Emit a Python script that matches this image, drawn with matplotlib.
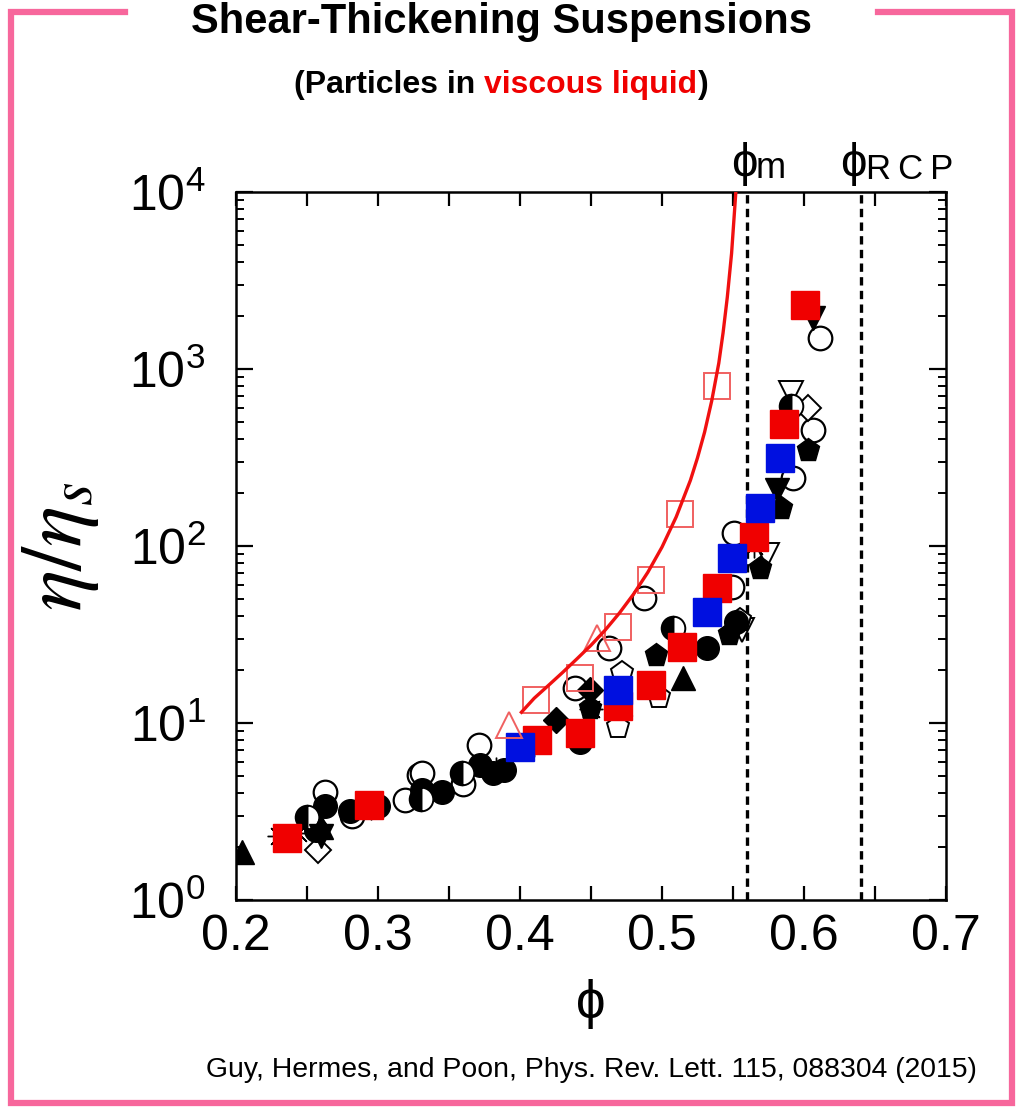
import matplotlib
matplotlib.use("Agg")
import matplotlib.pyplot as plt
from matplotlib.lines import Line2D
from matplotlib.ticker import MultipleLocator, LogLocator, NullFormatter

plt.rcParams['font.family'] = ['Liberation Sans', 'DejaVu Sans']
plt.rcParams['mathtext.fontset'] = 'custom'
plt.rcParams['mathtext.rm'] = 'Liberation Sans'
plt.rcParams['mathtext.it'] = 'Liberation Sans:italic'

# red model curve
curve_phi = [0.401, 0.41, 0.42, 0.43, 0.44, 0.45, 0.46, 0.47, 0.48, 0.49, 0.50, 0.51,
             0.52, 0.525, 0.53, 0.535, 0.54, 0.543, 0.546, 0.549, 0.552]
curve_eta = [11.5, 13.8, 16.3, 19.3, 23.0, 27.5, 33.5, 41.8, 53.5, 71, 98.6, 146,
             235, 315, 440, 660, 1080, 1600, 2550, 4500, 10000]

# coloured symbols
red_sq_phi = [0.236, 0.294, 0.412, 0.442, 0.469, 0.492, 0.514, 0.539, 0.565, 0.586, 0.601]
red_sq_eta = [2.25, 3.45, 8.0, 8.8, 12.5, 16.4, 26.9, 58, 112, 490, 2290]
blue_sq_phi = [0.400, 0.469, 0.532, 0.549, 0.569, 0.583]
blue_sq_eta = [7.3, 15.3, 42.4, 85, 165, 315]
red_open_sq_phi = [0.411, 0.442, 0.469, 0.492, 0.513, 0.539]
red_open_sq_eta = [13.5, 17.9, 34.9, 64.3, 152, 800]
red_open_tri_phi = [0.392, 0.454]
red_open_tri_eta = [9.7, 30.2]

# black symbols
fcirc_phi = [0.256, 0.263, 0.280, 0.300, 0.331, 0.345, 0.372, 0.381, 0.389, 0.442, 0.532, 0.552]
fcirc_eta = [2.5, 3.4, 3.2, 3.4, 4.2, 4.1, 5.8, 5.2, 5.4, 7.8, 26.5, 37]
ocirc_phi = [0.263, 0.282, 0.319, 0.329, 0.331, 0.360, 0.371, 0.439, 0.463, 0.487, 0.549, 0.551, 0.592, 0.606, 0.611]
ocirc_eta = [4.07, 3.0, 3.67, 5.1, 5.2, 4.5, 7.5, 15.7, 26.6, 50.9, 58.7, 118, 242, 450, 1500]
hcirc_phi = [0.250, 0.330, 0.359, 0.508, 0.591]
hcirc_eta = [2.94, 3.7, 5.2, 34.3, 620]
fdiam_phi = [0.425, 0.449, 0.470]
fdiam_eta = [10.4, 15.3, 13.0]
odiam_phi = [0.258, 0.470, 0.603]
odiam_eta = [1.92, 11.0, 600]
ftri_phi = [0.204, 0.260, 0.515]
ftri_eta = [1.87, 2.6, 18.0]
finv_phi = [0.260, 0.581, 0.606]
finv_eta = [2.3, 207, 1950]
oinv_phi = [0.556, 0.574, 0.591]
oinv_eta = [33.5, 89, 735]
fpent_phi = [0.449, 0.496, 0.547, 0.569, 0.584, 0.603]
fpent_eta = [12.1, 24.2, 32, 75, 165, 350]
opent_phi = [0.469, 0.472, 0.498, 0.555]
opent_eta = [9.5, 19.1, 14.0, 38]
star_phi = [0.230, 0.244, 0.295, 0.383, 0.410, 0.450, 0.565]
star_eta = [2.3, 2.4, 3.3, 5.5, 7.5, 12.0, 100]

phi_m = 0.56
phi_rcp = 0.64

W, H = 1023, 1110
fig = plt.figure(figsize=(W / 100, H / 100), dpi=100)
ax = fig.add_axes([236 / W, 1 - 900 / H, (946 - 236) / W, (900 - 192) / H])

ms = 17
ax.plot(ocirc_phi, ocirc_eta, 'o', ms=ms, mfc='white', mec='black', mew=1.6, zorder=2)
ax.plot(odiam_phi, odiam_eta, 'D', ms=ms * 0.8, mfc='white', mec='black', mew=1.4, zorder=2)
ax.plot(oinv_phi, oinv_eta, 'v', ms=ms, mfc='white', mec='black', mew=1.4, zorder=2)
ax.plot(opent_phi, opent_eta, 'p', ms=ms, mfc='white', mec='black', mew=1.4, zorder=2)
ax.plot(star_phi, star_eta, marker=(8, 2, 0), ls='none', ms=ms, mec='black', mew=1.0, zorder=2)
ax.plot(fcirc_phi, fcirc_eta, 'o', ms=ms, color='black', zorder=3)
ax.plot(hcirc_phi, hcirc_eta, 'o', ms=ms, fillstyle='left', mfc='black', mfcalt='white',
        mec='black', mew=1.4, zorder=3)
ax.plot(fdiam_phi, fdiam_eta, 'D', ms=ms * 0.8, color='black', zorder=3)
ax.plot(ftri_phi, ftri_eta, '^', ms=ms, color='black', zorder=3)
ax.plot(finv_phi, finv_eta, 'v', ms=ms, color='black', zorder=3)
ax.plot(fpent_phi, fpent_eta, 'p', ms=ms, color='black', zorder=3)

ax.plot(red_sq_phi, red_sq_eta, 's', ms=20, color='#f00000', zorder=4)
ax.plot(blue_sq_phi, blue_sq_eta, 's', ms=20, color='#0010e0', zorder=4)
ax.plot(red_open_sq_phi, red_open_sq_eta, 's', ms=19, mfc='none', mec='#f06060', mew=1.4, zorder=5)
ax.plot(red_open_tri_phi, red_open_tri_eta, '^', ms=19, mfc='none', mec='#f06060', mew=1.4, zorder=5)
ax.plot(curve_phi, curve_eta, '-', color='#f01010', lw=2.4, zorder=6)

for p in (phi_m, phi_rcp):
    ax.axvline(p, color='black', lw=2.4, ls=(0, (2.5, 1.6)), zorder=1)

ax.set_xlim(0.2, 0.7)
ax.set_yscale('log')
ax.set_ylim(1, 1e4)
ax.xaxis.set_major_locator(MultipleLocator(0.1))
ax.xaxis.set_minor_locator(MultipleLocator(0.05))
ax.xaxis.set_major_formatter(plt.FuncFormatter(lambda v, p: f'{v:.1f}'))
ax.yaxis.set_major_locator(LogLocator(base=10, numticks=10))
ax.yaxis.set_minor_locator(LogLocator(base=10, subs=range(2, 10), numticks=20))
ax.yaxis.set_minor_formatter(NullFormatter())
ax.tick_params(axis='x', which='both', direction='in', top=True, length=10, width=1.6,
               labelsize=36, pad=10)
ax.tick_params(axis='y', which='major', direction='in', right=True, length=12, width=1.6,
               labelsize=36, pad=22)
ax.tick_params(axis='y', which='minor', direction='in', right=True, length=6, width=1.4)
for s in ax.spines.values():
    s.set_linewidth(1.8)

ax.set_xlabel('ϕ', fontsize=38, labelpad=14)
ax.set_ylabel(r'$\eta/\eta_s$', fontsize=62, math_fontfamily='stix', labelpad=20)

# phi_m and phi_RCP labels above the plot
tr = ax.get_xaxis_transform()
ax.text(phi_m - 0.002, 1.008, 'ϕ', transform=tr, fontsize=34, ha='center', va='bottom')
ax.text(phi_m + 0.006, 1.008, 'm', transform=tr, fontsize=26, ha='left', va='bottom')
ax.text(phi_rcp - 0.005, 1.008, 'ϕ', transform=tr, fontsize=34, ha='center', va='bottom')
ax.text(phi_rcp + 0.004, 1.008, 'R\u2009C\u2009P', transform=tr, fontsize=25, ha='left', va='bottom')

# titles
fig.text(0.49, 1 - 22 / H, 'Shear-Thickening Suspensions', fontsize=30, fontweight='bold',
         ha='center', va='center')
parts = [('(Particles in ', 'black'), ('viscous liquid', '#f00000'), (')', 'black')]
fig.canvas.draw()
r = fig.canvas.get_renderer()
texts = []
x = 0.0
for s, c in parts:
    t = fig.text(x, 1 - 85 / H, s, fontsize=23, fontweight='bold', color=c, ha='left', va='center')
    w = t.get_window_extent(r).width / W
    texts.append((t, x))
    x += w
x0 = 0.49 - x / 2
for t, off in texts:
    t.set_x(x0 + off)

fig.text(977 / W, 1 - 1070 / H, 'Guy, Hermes, and Poon, Phys. Rev. Lett. 115, 088304 (2015)',
         fontsize=20.4, ha='right', va='center')

# pink frame with a gap for the title
pink = '#f7679c'
L, R, T, B = 11 / W, 1012 / W, 1 - 12 / H, 1 - 1103 / H
fig.add_artist(Line2D([125 / W, L, L, R, R, 878 / W], [T, T, B, B, T, T],
                      transform=fig.transFigure, color=pink, lw=4.5, solid_joinstyle='miter'))

fig.savefig('out.png', dpi=100)
